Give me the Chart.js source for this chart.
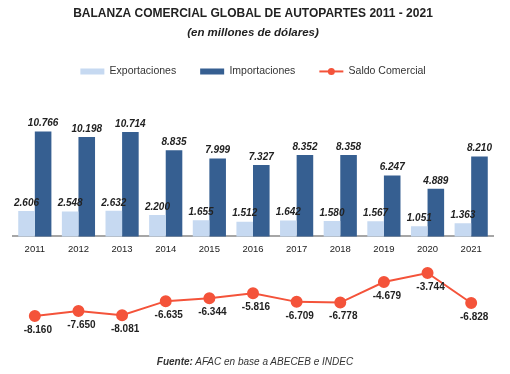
<!DOCTYPE html>
<html>
<head>
<meta charset="utf-8">
<script src="https://cdn.jsdelivr.net/npm/chart.js@4.4.1/dist/chart.umd.min.js"></script>
<style>
  html, body { margin: 0; padding: 0; background: #fff; }
  #wrap { position: relative; width: 510px; height: 374px; }
  #fuente {
    position: absolute; left: 0; width: 510px; top: 356px;
    text-align: center; font: italic 10px "Liberation Sans", sans-serif; color: #333;
  }
</style>
</head>
<body>
<div id="wrap">
  <canvas id="chart" width="510" height="374"></canvas>
  <div id="fuente"><b>Fuente:</b> AFAC en base a ABECEB e INDEC</div>
</div>
<script>
/* =====================
Data
===================== */
var years = ['2011', '2012', '2013', '2014', '2015', '2016', '2017', '2018', '2019', '2020', '2021'];
var exportaciones = [2606, 2548, 2632, 2200, 1655, 1512, 1642, 1580, 1567, 1051, 1363];
var importaciones = [10766, 10198, 10714, 8835, 7999, 7327, 8352, 8358, 6247, 4889, 8210];
var saldo = [-8160, -7650, -8081, -6635, -6344, -5816, -6709, -6778, -4679, -3744, -6828];

var FONT = '"Liberation Sans", Arial, sans-serif';
var RED = '#F4533A';

// 10766 -> "10.766"
function fmt(v) {
  return String(v).replace(/\B(?=(\d{3})+(?!\d))/g, '.');
}

// value labels over bars and under the line points
var valueLabels = {
  id: 'valueLabels',
  afterDatasetsDraw: function(chart) {
    var ctx = chart.ctx;
    ctx.save();
    ctx.fillStyle = '#222';
    ctx.textAlign = 'center';
    chart.data.datasets.forEach(function(ds, i) {
      var meta = chart.getDatasetMeta(i);
      meta.data.forEach(function(el, j) {
        var v = ds.data[j];
        if (ds.type === 'line') {
          ctx.font = 'bold 10px ' + FONT;
          ctx.textBaseline = 'middle';
          ctx.fillText(fmt(v), el.x + 3, el.y + 14);
        } else {
          ctx.font = 'italic bold 10px ' + FONT;
          ctx.textBaseline = 'bottom';
          ctx.fillText(fmt(v), el.x, el.y - 3);
        }
      });
    });
    ctx.restore();
  }
};

// line + dot marker for the "Saldo Comercial" legend item
var legendLine = {
  id: 'legendLine',
  afterDraw: function(chart) {
    var items = chart.legend.legendItems;
    var k = items.findIndex(function(it) { return it.text === 'Saldo Comercial'; });
    var box = chart.legend.legendHitBoxes[k];
    if (!box) return;
    var ctx = chart.ctx;
    var cy = box.top + box.height / 2;
    ctx.save();
    ctx.strokeStyle = RED;
    ctx.fillStyle = RED;
    ctx.lineWidth = 2;
    ctx.beginPath();
    ctx.moveTo(box.left, cy);
    ctx.lineTo(box.left + 24, cy);
    ctx.stroke();
    ctx.beginPath();
    ctx.arc(box.left + 12, cy, 3.5, 0, Math.PI * 2);
    ctx.fill();
    ctx.restore();
  }
};

var chart = new Chart(document.getElementById('chart'), {
  data: {
    labels: years,
    datasets: [
      {
        type: 'bar',
        label: 'Exportaciones',
        data: exportaciones,
        backgroundColor: '#C6D9F1',
        categoryPercentage: 0.76,
        barPercentage: 1
      },
      {
        type: 'bar',
        label: 'Importaciones',
        data: importaciones,
        backgroundColor: '#365F91',
        categoryPercentage: 0.76,
        barPercentage: 1
      },
      {
        type: 'line',
        label: 'Saldo Comercial',
        data: saldo,
        borderColor: RED,
        backgroundColor: RED,
        borderWidth: 2,
        pointRadius: 5,
        pointBackgroundColor: RED,
        pointBorderColor: RED
      }
    ]
  },
  options: {
    responsive: false,
    animation: false,
    devicePixelRatio: 1,
    layout: { padding: { left: 13, right: 17, top: 0, bottom: 29 } },
    plugins: {
      title: {
        display: true,
        text: 'BALANZA COMERCIAL GLOBAL DE AUTOPARTES 2011 - 2021',
        color: '#222',
        font: { family: FONT, size: 12, weight: 'bold' },
        padding: { top: 6, bottom: 6 }
      },
      subtitle: {
        display: true,
        text: '(en millones de dólares)',
        color: '#222',
        font: { family: FONT, size: 11.5, weight: 'bold', style: 'italic' },
        padding: { top: 0, bottom: 2 }
      },
      legend: {
        display: true,
        labels: {
          color: '#333',
          font: { family: FONT, size: 10.5 },
          boxWidth: 24,
          boxHeight: 6,
          padding: 24,
          generateLabels: function(chart) {
            var items = Chart.defaults.plugins.legend.labels.generateLabels(chart);
            items.forEach(function(it) {
              if (it.text === 'Saldo Comercial') {
                it.fillStyle = 'rgba(0,0,0,0)';
                it.strokeStyle = 'rgba(0,0,0,0)';
                it.lineWidth = 0;
              }
            });
            return items;
          }
        }
      },
      tooltip: { enabled: false }
    },
    scales: {
      x: {
        position: { y: 0 },
        grid: { display: false, drawTicks: false },
        border: { display: true, color: '#A6A6A6', width: 2 },
        ticks: { color: '#222', font: { family: FONT, size: 9.5 }, padding: 7 }
      },
      y: {
        display: false,
        min: -11134,
        max: 15361
      }
    }
  },
  plugins: [valueLabels, legendLine]
});
</script>
</body>
</html>
